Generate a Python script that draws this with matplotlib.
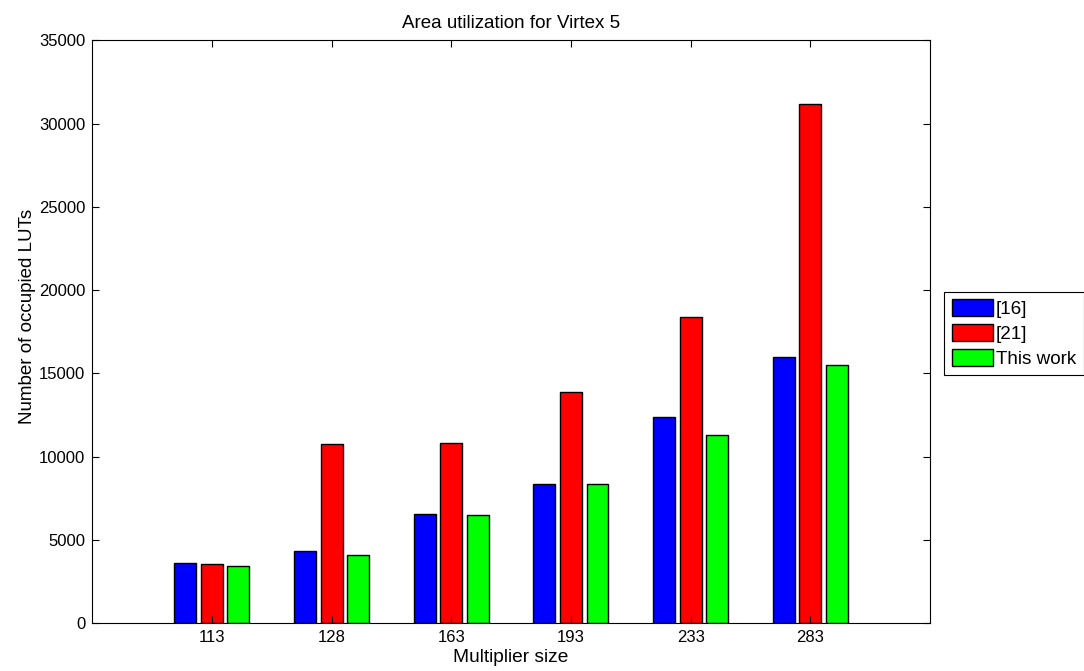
import matplotlib.pyplot as plt
import numpy as np

plt.rcParams['font.family'] = ['Liberation Sans', 'DejaVu Sans']

sizes = ['113', '128', '163', '193', '233', '283']
ref16 = [3650, 4360, 6560, 8370, 12380, 16010]
ref21 = [3560, 10740, 10820, 13880, 18390, 31150]
this_work = [3420, 4120, 6500, 8350, 11320, 15500]

fig = plt.figure(figsize=(10.84, 6.71), dpi=100)
ax = fig.add_axes([0.085, 0.071, 0.773, 0.869])

x = np.arange(1, len(sizes) + 1)
w = 0.183
off = 0.222
ax.bar(x - off, ref16, w, color='#0000ff', edgecolor='black', linewidth=1, label='[16]')
ax.bar(x, ref21, w, color='#ff0000', edgecolor='black', linewidth=1, label='[21]')
ax.bar(x + off, this_work, w, color='#00ff00', edgecolor='black', linewidth=1, label='This work')

ax.set_xlim(0, 7)
ax.set_ylim(0, 35000)
ax.set_xticks(x)
ax.set_xticklabels(sizes)
ax.set_yticks(np.arange(0, 35001, 5000))
ax.tick_params(direction='in', top=True, right=True, length=5, labelsize=12, width=0.8, pad=5)
for s in ax.spines.values():
    s.set_linewidth(0.8)

ax.set_title('Area utilization for Virtex 5', fontsize=13.5, pad=9)
ax.set_xlabel('Multiplier size', fontsize=13.8, labelpad=3)
ax.set_ylabel('Number of occupied LUTs', fontsize=13.5)
ax.yaxis.set_label_coords(-0.067, 0.527)

leg = fig.legend(loc='upper left', bbox_to_anchor=(0.871, 0.565), fontsize=13.6,
                 handlelength=2.2, handleheight=1.0, handletextpad=0.15,
                 labelspacing=0.3, borderpad=0.4, borderaxespad=0,
                 fancybox=False, edgecolor='black', framealpha=1)
leg.get_frame().set_linewidth(0.8)

fig.savefig('out.png', dpi=100)
